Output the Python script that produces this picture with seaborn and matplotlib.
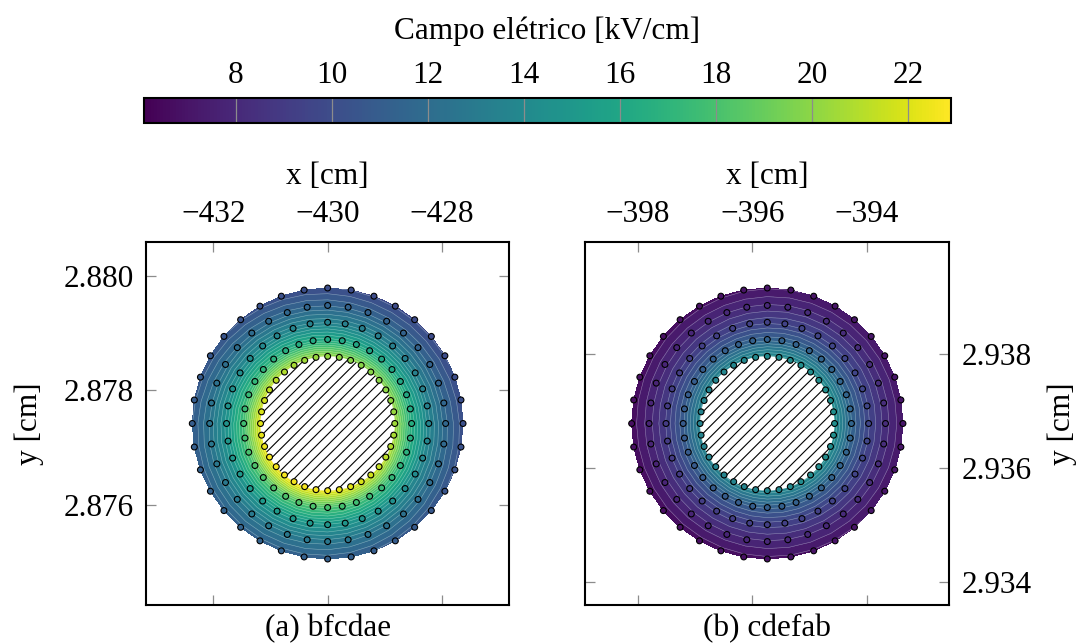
import numpy as np
import matplotlib
matplotlib.use("Agg")
import matplotlib.pyplot as plt
import matplotlib.tri as mtri
import seaborn as sns
import pandas as pd

# ---------------- data ----------------
ring_radii_cm = [1.175, 1.47, 1.77, 2.065, 2.37]     # node rings (cm)
n_nodes_per_ring = 36
y_unit = 1e-3                                          # y axis is in 10^3 cm scale

panel_titles = ["(a) bfcdae", "(b) cdefab"]
centers_x = [-430.0, -395.74]
centers_y = [2.87742, 2.93678]
ring_E_a = [21.3, 17.1, 14.2, 12.1, 10.6]
ring_E_b = [14.0, 11.2, 9.3, 8.0, 6.9]
asym_amp = [0.065, 0.03]          # relative angular modulation
asym_dir_deg = [235.0, 15.0]      # direction of max field

xticks_a = [-432, -430, -428]
xticks_b = [-398, -396, -394]
yticks_a = [2.876, 2.878, 2.880]
yticks_b = [2.934, 2.936, 2.938]
half_span_cm = 3.18

cbar_ticks = [8, 10, 12, 14, 16, 18, 20, 22]
E_min, E_max = 6.1, 22.88
cbar_label = "Campo elétrico [kV/cm]"
xlabel = "x [cm]"
ylabel = "y [cm]"

# ---------------- style ----------------
sns.set_style("white")
plt.rcParams["font.family"] = ["Liberation Serif", "DejaVu Serif"]
for k in ["text.color", "axes.labelcolor", "xtick.labelcolor", "ytick.labelcolor"]:
    plt.rcParams[k] = "black"
FS = 22.5

W, H = 1084, 644
fig = plt.figure(figsize=(W / 100, H / 100), dpi=100)

def fx(px): return px / W
def fy(py): return 1 - py / H

ax_a = fig.add_axes([fx(146), fy(605.3), fx(509.3) - fx(146), fy(241.7) - fy(605.3)])
ax_b = fig.add_axes([fx(585.3), fy(605.3), fx(949.3) - fx(585.3), fy(241.7) - fy(605.3)])
cax = fig.add_axes([fx(144.3), fy(122.7), fx(950.7) - fx(144.3), fy(98.3) - fy(122.7)])

norm = matplotlib.colors.Normalize(vmin=E_min, vmax=E_max)
cmap = plt.get_cmap("viridis")
levels = np.arange(6.0, 23.01, 0.5)

ring_E = [ring_E_a, ring_E_b]
xt = [xticks_a, xticks_b]
yt = [yticks_a, yticks_b]

for i, ax in enumerate([ax_a, ax_b]):
    cx, cy = centers_x[i], centers_y[i]
    ang = np.deg2rad(np.arange(n_nodes_per_ring) * 360.0 / n_nodes_per_ring)
    rows = []
    for r, e in zip(ring_radii_cm, ring_E[i]):
        for a in ang:
            val = e * (1 + asym_amp[i] * np.cos(a - np.deg2rad(asym_dir_deg[i])))
            rows.append((r * np.cos(a), r * np.sin(a), val, r))
    df = pd.DataFrame(rows, columns=["u", "v", "E", "r"])
    df["x"] = cx + df["u"]
    df["y"] = cy + df["v"] * y_unit

    # triangulate in cm space, mask the hole
    tri_cm = mtri.Triangulation(df["u"].values, df["v"].values)
    rr = df["r"].values
    rin = ring_radii_cm[0]
    mask = np.all(np.isclose(rr[tri_cm.triangles], rin), axis=1)
    tri_cm.set_mask(mask)
    refiner = mtri.UniformTriRefiner(tri_cm)
    interp = mtri.LinearTriInterpolator(tri_cm, df["E"].values)
    tri_ref, E_ref = refiner.refine_field(df["E"].values, triinterpolator=interp, subdiv=3)
    tri_plot = mtri.Triangulation(cx + tri_ref.x, cy + tri_ref.y * y_unit, tri_ref.triangles,
                                  mask=tri_ref.mask)

    ax.tricontourf(tri_plot, E_ref, levels=levels, cmap=cmap, norm=norm, zorder=1)
    ax.tricontour(tri_plot, E_ref, levels=levels, colors="white", linewidths=0.4,
                  alpha=0.4, zorder=2)

    # hatched conductor
    t = np.linspace(0, 2 * np.pi, 300)
    ax.fill(cx + rin * np.cos(t), cy + rin * np.sin(t) * y_unit, color="white", zorder=3, lw=0)
    d = 0.19
    for k in range(-9, 10):
        c = k * d
        disc = 2 * rin ** 2 - c ** 2
        if disc <= 0:
            continue
        u1 = (-c - np.sqrt(disc)) / 2
        u2 = (-c + np.sqrt(disc)) / 2
        ax.plot([cx + u1, cx + u2], [cy + (u1 + c) * y_unit, cy + (u2 + c) * y_unit],
                color="black", lw=0.8, zorder=4)

    sns.scatterplot(data=df, x="x", y="y", hue="E", palette="viridis", hue_norm=(E_min, E_max),
                    s=18, edgecolor="black", linewidth=0.8, legend=False, ax=ax, zorder=5)

    ax.set_xlim(cx - half_span_cm, cx + half_span_cm)
    ax.set_ylim(cy - half_span_cm * y_unit, cy + half_span_cm * y_unit)
    ax.set_xticks(xt[i])
    ax.set_xticklabels([f"{v:d}".replace("-", "\u2212") for v in xt[i]])
    ax.set_yticks(yt[i])
    ax.set_yticklabels([f"{v:.3f}" for v in yt[i]])
    ax.tick_params(direction="in", length=7, width=0.9, color="#8c8c8c", labelsize=FS,
                   labelcolor="black",
                   top=True, bottom=True, left=True, right=True,
                   labeltop=True, labelbottom=False,
                   labelleft=(i == 0), labelright=(i == 1), pad=9)
    ax.xaxis.set_label_position("top")
    ax.set_xlabel(xlabel, fontsize=FS, labelpad=12, color="black")
    if i == 0:
        ax.set_ylabel(ylabel, fontsize=FS, labelpad=14, color="black")
    else:
        ax.yaxis.set_label_position("right")
        ax.set_ylabel(ylabel, fontsize=FS, labelpad=11, rotation=90, color="black")
    for s in ax.spines.values():
        s.set_linewidth(1.5)
        s.set_color("black")
    bb = ax.get_position()
    fig.text((bb.x0 + bb.x1) / 2, fy(636), panel_titles[i], ha="center", va="baseline",
             fontsize=FS, color="black")

sm = matplotlib.cm.ScalarMappable(norm=norm, cmap=cmap)
cb = fig.colorbar(sm, cax=cax, orientation="horizontal")
cb.set_ticks(cbar_ticks)
cax.xaxis.set_ticks_position("top")
cax.xaxis.set_label_position("top")
cax.tick_params(length=0, labelsize=FS, pad=6, labelcolor="black")
cb.set_label(cbar_label, fontsize=FS, labelpad=16, color="black")
cb.outline.set_linewidth(1.5)
cb.outline.set_edgecolor("black")
for v in cbar_ticks:
    cax.axvline(v, color="#8c8c8c", lw=0.9)

fig.savefig("out.png", dpi=100)
